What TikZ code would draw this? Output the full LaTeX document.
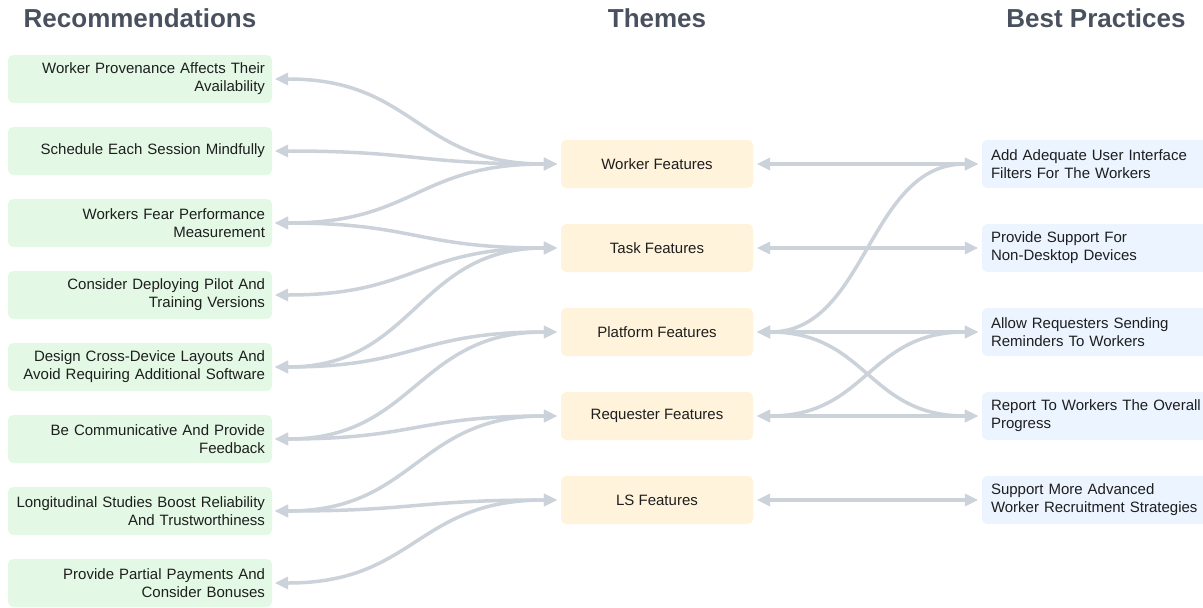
\documentclass[tikz,border=0pt]{standalone}
\usepackage{fontspec}
\setmainfont{Liberation Sans}
\usetikzlibrary{arrows.meta}

\definecolor{recgreen}{RGB}{227,249,229}
\definecolor{themecream}{RGB}{255,243,220}
\definecolor{bpblue}{RGB}{235,244,255}
\definecolor{linkgray}{RGB}{203,210,218}
\definecolor{headgray}{RGB}{74,81,94}
\definecolor{textdark}{RGB}{30,30,30}

\begin{document}
\begin{tikzpicture}[x=1pt,y=-1pt,
  every node/.style={font=\fontsize{15}{18}\selectfont, text=textdark},
  head/.style={font=\fontsize{26}{30}\selectfont\bfseries, text=headgray, anchor=base},
  recbox/.style={fill=recgreen, rounded corners=5pt, minimum height=48pt, text width=250pt, inner xsep=7pt, align=right},
  themebox/.style={fill=themecream, rounded corners=5pt, minimum height=48pt, minimum width=192pt},
  bpbox/.style={fill=bpblue, rounded corners=5pt, minimum height=48pt, text width=212pt, inner xsep=9pt, align=left},
  tip/.tip={Triangle[length=13pt,width=13pt,line width=0pt]},
  link/.style={draw=linkgray, line width=3.5pt, tip-tip},
]
\useasboundingbox (0,0) rectangle (1203,608);

% column headings
\node[head] (hrec) at (140,27) {Recommendations};
\node[head] (hthm) at (657,27) {Themes};
\node[head] (hbp) at (1096,27) {Best Practices};

% recommendations
\foreach \txt [count=\i] in {{Worker Provenance Affects Their\\Availability},
  {Schedule Each Session Mindfully},
  {Workers Fear Performance\\Measurement},
  {Consider Deploying Pilot And\\Training Versions},
  {Design Cross-Device Layouts And\\Avoid Requiring Additional Software},
  {Be Communicative And Provide\\Feedback},
  {Longitudinal Studies Boost Reliability\\And Trustworthiness},
  {Provide Partial Payments And\\Consider Bonuses}}
  \node[recbox] (r\i) at (140,7+72*\i) {\txt};

% themes
\foreach \txt [count=\i] in {Worker Features, Task Features, Platform Features,
  Requester Features, LS Features}
  \node[themebox] (t\i) at (657,80+84*\i) {\txt};

% best practices
\foreach \txt [count=\i] in {{Add Adequate User Interface\\Filters For The Workers},
  {Provide Support For\\Non-Desktop Devices},
  {Allow Requesters Sending\\Reminders To Workers},
  {Report To Workers The Overall\\Progress},
  {Support More Advanced\\Worker Recruitment Strategies}}
  \node[bpbox] (b\i) at (1097,80+84*\i) {\txt};

% recommendation <-> theme
\foreach \a/\b in {1/1,2/1,3/1,3/2,4/2,5/2,5/3,6/3,6/4,7/4,7/5,8/5}
  \draw[link] ([xshift=3pt]r\a.east) .. controls +(140,0) and +(-140,0) .. ([xshift=-4pt]t\b.west);

% theme <-> best practice
\foreach \a/\b in {1/1,2/2,3/1,3/3,3/4,4/3,4/4,5/5}
  \draw[link] ([xshift=4pt]t\a.east) .. controls +(110,0) and +(-110,0) .. ([xshift=-4pt]b\b.west);
\end{tikzpicture}
\end{document}
